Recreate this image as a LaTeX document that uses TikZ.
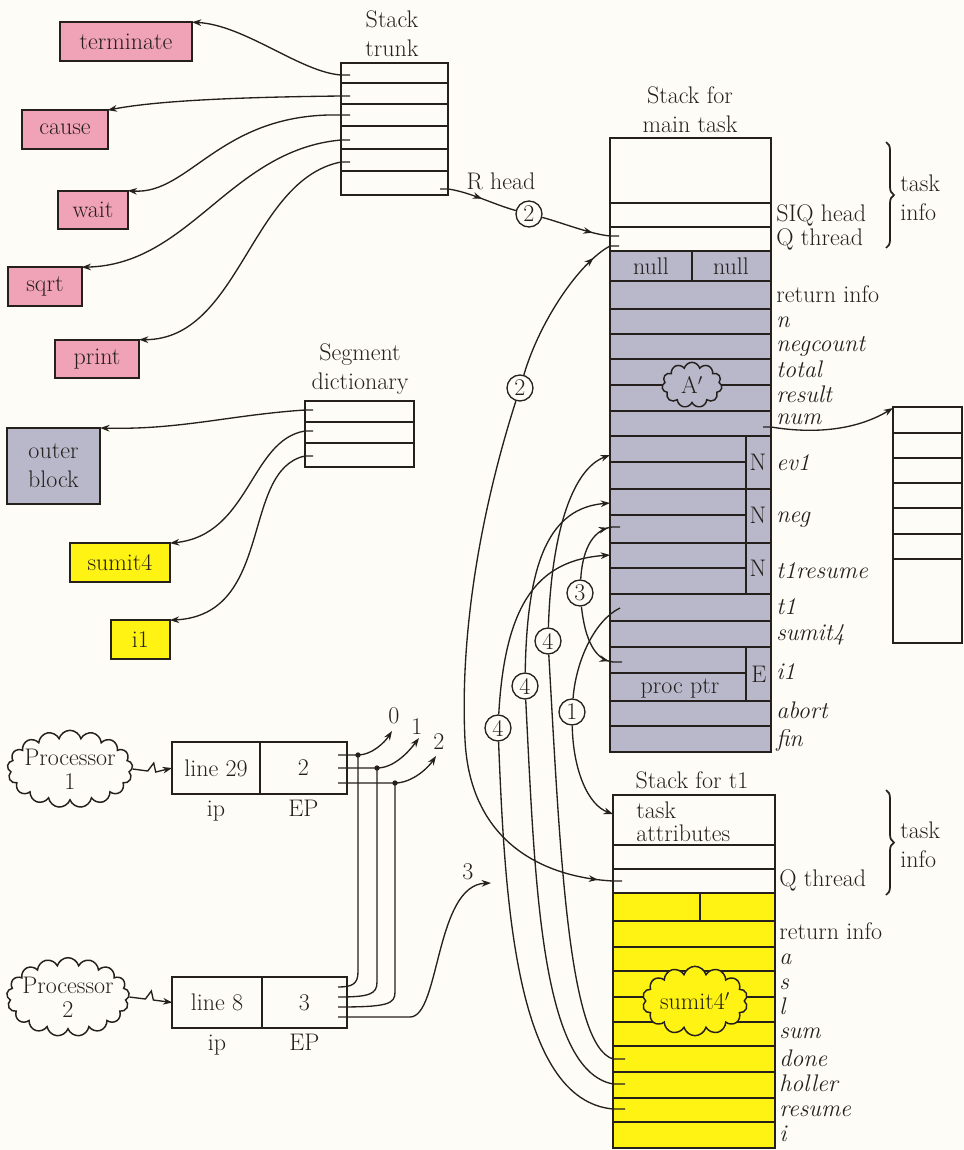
\documentclass[tikz,border=0pt]{standalone}
\usetikzlibrary{arrows.meta, positioning, shapes.symbols, decorations.pathreplacing, decorations.markings}

\definecolor{rosa}{RGB}{240,162,182}
\definecolor{gris}{RGB}{184,184,202}
\definecolor{amarillo}{RGB}{255,243,20}
\definecolor{tinta}{RGB}{38,32,28}
\definecolor{papel}{RGB}{253,252,246}

\begin{document}
\begin{tikzpicture}[x=0.75pt, y=-0.75pt, color=tinta, font=\fontsize{18}{22}\selectfont,
    caja/.style={draw=tinta, line width=1.3pt, minimum height=29pt, inner sep=2pt, outer sep=0pt},
    rosabox/.style={caja, fill=rosa},
    amabox/.style={caja, fill=amarillo},
    linea/.style={draw=tinta, line width=1.3pt},
    enlace/.style={draw=tinta, line width=1pt},
    flecha/.style={enlace, -{Stealth[length=7pt,width=5pt]}},
    marca/.style={postaction={decorate, decoration={markings, mark=at position #1 with {\arrow{Stealth[length=7pt,width=5pt]}}}}},
    circnum/.style={circle, draw=tinta, line width=1pt, fill=papel, inner sep=0pt, minimum size=19.5pt},
    etiq/.style={anchor=base west, inner sep=0pt},
    etiqit/.style={etiq, font=\fontsize{18}{22}\selectfont\itshape},
    nube/.style={cloud, cloud ignores aspect, draw=tinta, line width=1.1pt, inner sep=0pt},
    punto/.style={circle, fill=tinta, inner sep=0pt, minimum size=4pt},
    sub/.style={text height=12pt, text depth=4pt, inner sep=0pt}]

    % Fondo
    \useasboundingbox (0,0) rectangle (964,1150);
    \fill[papel] (0,0) rectangle (964,1150);

    % Nodos de rutinas y segmentos
    \node (terminate) [rosabox, minimum width=99pt] at (126,41.5) {terminate};
    \node (cause) [rosabox, minimum width=64pt] at (65,129.5) {cause};
    \node (wait) [rosabox, minimum width=52pt] at (93,210) {wait};
    \node (sqrt) [rosabox, minimum width=55pt] at (45,286.5) {sqrt};
    \node (print) [rosabox, minimum width=63pt] at (97,359) {print};
    \node (outer) [caja, fill=gris, minimum width=70pt, minimum height=57pt, align=center] at (53.5,466) {outer\\block};
    \node (sumit4) [amabox, minimum width=75pt] at (120,562.5) {sumit4};
    \node (i1) [amabox, minimum width=44pt] at (140.5,639.5) {i1};

    % Stack trunk
    \node (ttrunk) [align=center] at (392,34) {Stack\\trunk};
    \draw[linea] (341,63) rectangle (448,195);
    \foreach \y in {83,104,126,149,171} \draw[linea] (341,\y) -- (448,\y);
    \coordinate (tk1) at (350,75);
    \coordinate (tk2) at (350,96);
    \coordinate (tk3) at (350,115);
    \coordinate (tk4) at (350,140);
    \coordinate (tk5) at (350,162);
    \coordinate (krh) at (440,189);

    % Segment dictionary
    \node (tseg) [align=center] at (360,369) {Segment\\dictionary};
    \draw[linea] (305,401) rectangle (414,467);
    \foreach \y in {422,443} \draw[linea] (305,\y) -- (414,\y);
    \coordinate (sd1) at (313,410);
    \coordinate (sd2) at (313,431);
    \coordinate (sd3) at (313,456);

    % Pila de la tarea principal
    \node (tmain) [align=center] at (690,110) {Stack for\\main task};
    \fill[gris] (610,251) rectangle (771,752);
    \draw[linea] (610,138) rectangle (771,752);
    \foreach \y in {203,227,281,309,334,359,385,411,436,489,543,594,621,647,701,726} \draw[linea] (610,\y) -- (771,\y);
    \draw[line width=2pt] (610,251) -- (771,251);
    \foreach \y in {462,515,568,673} \draw[linea] (610,\y) -- (746,\y);
    \draw[linea] (692,251) -- (692,281);
    \draw[linea] (746,436) -- (746,594);
    \draw[linea] (746,647) -- (746,701);
    \node (null1) at (651,266) {null};
    \node (null2) at (731,266) {null};
    \node (nev) at (758,462) {N};
    \node (nneg) at (758,515) {N};
    \node (nres) at (758,568) {N};
    \node (ei1) at (759,674) {E};
    \node (procptr) at (680,688) {proc ptr};
    \node (aprima) [nube, fill=gris, cloud puffs=11, minimum width=45pt, minimum height=34pt] at (692,385) {};
    \node (taprima) at (aprima) {A$'$};

    \node (lsiq) [etiq] at (776,221) {SIQ head};
    \node (lqth) [etiq] at (776,245) {Q thread};
    \node (lret) [etiq] at (776,302) {return info};
    \node (ln) [etiqit] at (776,327) {n};
    \node (lneg) [etiqit] at (776,351) {negcount};
    \node (ltot) [etiqit] at (776,377) {total};
    \node (lres) [etiqit] at (776,402) {result};
    \node (lnum) [etiqit] at (776,424) {num};
    \node (lev) [etiqit] at (776,470) {ev1};
    \node (lng) [etiqit] at (776,522) {neg};
    \node (ltres) [etiqit] at (776,578) {t1resume};
    \node (lt1) [etiqit] at (776,614) {t1};
    \node (lsum) [etiqit] at (776,640) {sumit4};
    \node (li1) [etiqit] at (776,679) {i1};
    \node (labort) [etiqit] at (776,718) {abort};
    \node (lfin) [etiqit] at (776,746) {fin};
    \draw[linea, decorate, decoration={brace, amplitude=6pt}] (886,142) -- (886,248);
    \node (info1) [anchor=west, align=left, inner sep=0pt] at (900,198) {task\\info};

    % Vector de num
    \draw[linea] (893,407) rectangle (962,643);
    \foreach \y in {433,458,483,508,534,559} \draw[linea] (893,\y) -- (962,\y);
    \coordinate (lado) at (893,408);
    \coordinate (knum) at (763,427);

    % Pila de t1
    \node (tt1) at (692,780) {Stack for t1};
    \fill[amarillo] (613,893) rectangle (775,1148);
    \draw[linea] (613,795) rectangle (775,1148);
    \foreach \y in {845,869,921,947,971,997,1022,1046,1072,1098,1122} \draw[linea] (613,\y) -- (775,\y);
    \draw[line width=2pt] (613,893) -- (775,893);
    \draw[linea] (700,893) -- (700,921);
    \node (tattr) [anchor=west, align=left, inner sep=0pt] at (636,822) {task\\[-5pt]attributes};
    \node (sumitp) [nube, fill=amarillo, cloud puffs=14, minimum width=79pt, minimum height=52pt] at (695,1001) {};
    \node (tsumitp) at (sumitp) {sumit4$'$};

    \node (lqth2) [etiq] at (779,886) {Q thread};
    \node (lret2) [etiq] at (779,939) {return info};
    \node (la) [etiqit] at (779,964) {a};
    \node (ls) [etiqit] at (779,989) {s};
    \node (ll) [etiqit] at (779,1014) {l};
    \node (lsm) [etiqit] at (779,1038) {sum};
    \node (ldone) [etiqit] at (779,1066) {done};
    \node (lhol) [etiqit] at (779,1091) {holler};
    \node (lresu) [etiqit] at (779,1116) {resume};
    \node (li) [etiqit] at (779,1141) {i};
    \draw[linea, decorate, decoration={brace, amplitude=6pt}] (886,790) -- (886,895);
    \node (info2) [anchor=west, align=left, inner sep=0pt] at (900,845) {task\\info};

    % Procesadores
    \node (proc1) [nube, fill=papel, cloud puffs=17, minimum width=94pt, minimum height=58pt] at (70,769) {};
    \node (tproc1) [align=center] at (proc1) {Processor\\[-4pt]1};
    \node (ip1) [caja, minimum width=66pt, minimum height=39pt] at (216,768) {line 29};
    \node (ep1) [caja, minimum width=65pt, minimum height=39pt, right=0pt of ip1] {2};
    \node (sip1) [sub, below=5pt of ip1] {ip};
    \node (sep1) [sub, below=5pt of ep1] {EP};

    \node (proc2) [nube, fill=papel, cloud puffs=17, minimum width=92pt, minimum height=59pt] at (68,997) {};
    \node (tproc2) [align=center] at (proc2) {Processor\\[-4pt]2};
    \node (ip2) [caja, minimum width=67pt, minimum height=38pt] at (217,1002.5) {line 8};
    \node (ep2) [caja, minimum width=64pt, minimum height=38pt, right=0pt of ip2] {3};
    \node (sip2) [sub, below=5pt of ip2] {ip};
    \node (sep2) [sub, below=5pt of ep2] {EP};

    \draw[flecha] (proc1.east) -- ++(15,2) -- ++(6,-8) -- ++(2,9) -- (ip1.west);
    \draw[flecha] (proc2.east) -- ++(16,2) -- ++(6,-8) -- ++(2,9) -- (ip2.west);

    % Punteros EP
    \coordinate (s0) at (338,755);
    \coordinate (s1) at (338,768);
    \coordinate (s2) at (338,783);
    \coordinate (e0) at (338,987);
    \coordinate (e1) at (338,997);
    \coordinate (e2) at (338,1007);
    \coordinate (e3) at (338,1017);
    \node (pd0) [punto] at (358,755) {};
    \node (pd1) [punto] at (377,768) {};
    \node (pd2) [punto] at (395,783) {};
    \node (l0) at (394,716) {0};
    \node (l1) at (417,727) {1};
    \node (l2) at (439,742) {2};
    \node (l3) at (468,872) {3};

    \draw[flecha] (s0) -- (pd0.center) .. controls (372,755) and (385,742) .. (392,731);
    \draw[flecha] (s1) -- (pd1.center) .. controls (395,768) and (410,750) .. (419,738);
    \draw[flecha] (s2) -- (pd2.center) .. controls (412,783) and (428,768) .. (436,756);
    \draw[enlace] (pd0.center) -- (358,972) .. controls (358,984) and (352,987) .. (e0);
    \draw[enlace] (pd1.center) -- (377,982) .. controls (377,994) and (370,997) .. (e1);
    \draw[enlace] (pd2.center) -- (395,992) .. controls (395,1004) and (388,1007) .. (e2);
    \draw[flecha] (e3) -- (410,1017) .. controls (440,1017) and (435,885) .. (491,883);

    % Dibujar conexiones del trunk y del diccionario
    \draw[flecha] (tk1) -- ++(-9,0) .. controls (300,72) and (245,25) .. (terminate.north east);
    \draw[flecha] (tk2) -- ++(-9,0) .. controls (250,97) and (160,100) .. (cause.north east);
    \draw[flecha] (tk3) -- ++(-9,0) .. controls (220,112) and (190,195) .. (wait.north east);
    \draw[flecha] (tk4) -- ++(-9,0) .. controls (230,150) and (190,265) .. (sqrt.north east);
    \draw[flecha] (tk5) -- ++(-9,0) .. controls (250,180) and (240,340) .. (print.north east);
    \draw[flecha] (sd1) -- ++(-8,0) .. controls (230,415) and (180,430) .. (outer.north east);
    \draw[flecha] (sd2) -- ++(-8,0) .. controls (250,440) and (250,535) .. (sumit4.north east);
    \draw[flecha] (sd3) -- ++(-8,0) .. controls (240,470) and (275,615) .. (i1.north east);
    \draw[flecha] (knum) -- ++(8,0) .. controls (820,435) and (860,428) .. (lado);

    % Numeros en circulo
    \node (c2a) [circnum] at (529,214) {2};
    \node (c2b) [circnum] at (520,388) {2};
    \node (c3) [circnum] at (580,593) {3};
    \node (c4a) [circnum] at (548,641) {4};
    \node (c4b) [circnum] at (525,686) {4};
    \node (c1) [circnum] at (572,712) {1};
    \node (c4c) [circnum] at (498,728) {4};
    \node (lrhead) at (501,181) {R head};

    \coordinate (kq1) at (619,236);
    \coordinate (kq2) at (619,246);
    \coordinate (kq3) at (622,881);
    \coordinate (kngb) at (620,527);
    \coordinate (ki1) at (622,662);
    \coordinate (kt1) at (620,608);
    \coordinate (kattr) at (613,814);
    \coordinate (kev) at (610,455);
    \coordinate (kng) at (610,503);
    \coordinate (ktres) at (610,555);
    \coordinate (kdone) at (625,1059);
    \coordinate (khol) at (625,1084);
    \coordinate (kresu) at (625,1109);

    % Dibujar conexiones entre pilas
    \draw[enlace, marca=0.55] (krh) -- ++(8,0) .. controls (470,192) and (495,205) .. (c2a);
    \draw[enlace, marca=-20pt] (c2a) .. controls (560,222) and (590,234) .. (610,236) -- (kq1);
    \draw[enlace, marca=-22pt] (c2b) .. controls (540,320) and (580,262) .. (610,246) -- (kq2);
    \draw[enlace, marca=-18pt] (c2b) .. controls (478,520) and (460,640) .. (465,740) .. controls (470,840) and (540,877) .. (613,881) -- (kq3);
    \draw[enlace, marca=-9pt] (c3) .. controls (582,555) and (590,530) .. (612,527) -- (kngb);
    \draw[enlace, marca=-10pt] (c3) .. controls (585,640) and (595,660) .. (613,662) -- (ki1);
    \draw[enlace] (c1) .. controls (576,660) and (595,620) .. (kt1);
    \draw[flecha] (c1) .. controls (573,770) and (588,805) .. (kattr);
    \draw[flecha] (c4a) .. controls (551,540) and (570,470) .. (kev);
    \draw[flecha] (c4b) .. controls (527,560) and (550,508) .. (kng);
    \draw[flecha] (c4c) .. controls (505,600) and (540,560) .. (ktres);
    \draw[enlace] (c4a) .. controls (560,850) and (568,1045) .. (613,1059) -- (kdone);
    \draw[enlace] (c4b) .. controls (535,880) and (540,1070) .. (613,1084) -- (khol);
    \draw[enlace] (c4c) .. controls (505,900) and (515,1100) .. (613,1109) -- (kresu);
\end{tikzpicture}
\end{document}
